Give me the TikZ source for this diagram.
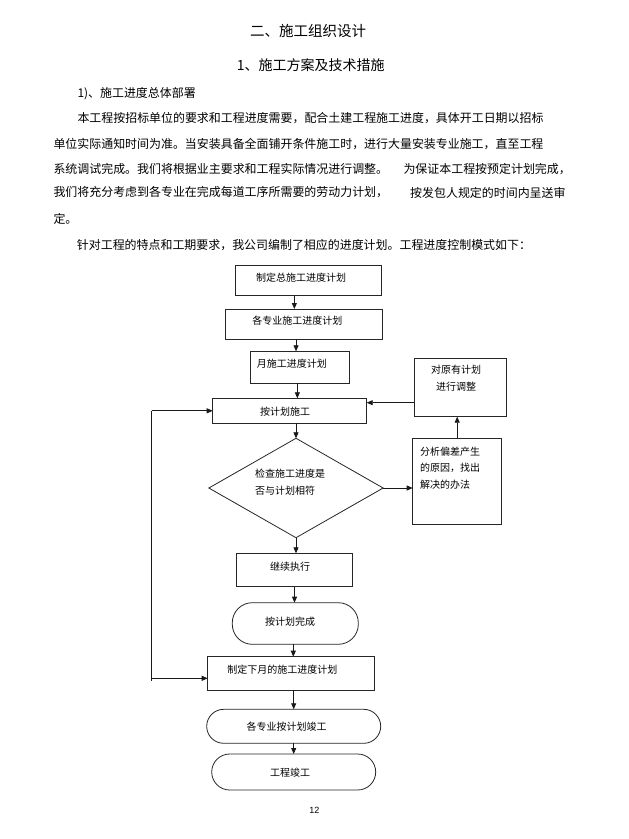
\documentclass[tikz,border=0pt]{standalone}
\usepackage{fontspec}
\newfontfamily\cjk{Noto Sans CJK SC}
\newfontfamily\lat{Liberation Sans}
\usetikzlibrary{arrows.meta,shapes.geometric}
\begin{document}
\begin{tikzpicture}[x=1pt,y=-1pt,
  bx/.style={draw=black!85, line width=0.8pt, inner sep=0pt, outer sep=0pt, rectangle},
  dbx/.style={draw=black!85, line width=0.8pt, inner sep=0pt, outer sep=0pt, diamond},
  arr/.style={draw=black!90, line width=0.8pt, -{Triangle[length=6pt,width=5pt]}},
  ln/.style={draw=black!90, line width=0.8pt},
  ft/.style={inner sep=0pt, font=\cjk\fontsize{10}{12}\selectfont},
  bt/.style={inner sep=0pt, anchor=west, font=\cjk\fontsize{11.95}{14}\selectfont},
  hd/.style={inner sep=0pt, anchor=west, font=\cjk\fontsize{14.5}{16}\selectfont}]
\useasboundingbox (0,0) rectangle (629,839);
\fill[white] (0,0) rectangle (629,839);

% headings and body text
\node[hd] (h1) at (250,31) {二、施工组织设计};
\node[hd, font=\cjk\fontsize{14}{16}\selectfont] (h2) at (236.7,65) {1、施工方案及技术措施};
\node[bt] (h3) at (77.3,94) {1)、施工进度总体部署};
\node[bt] (p1) at (77.3,118.3) {本工程按招标单位的要求和工程进度需要，配合土建工程施工进度，具体开工日期以招标};
\node[bt] (p2) at (53.3,144) {单位实际通知时间为准。当安装具备全面铺开条件施工时，进行大量安装专业施工，直至工程};
\node[bt] (p3a) at (53.3,169.3) {系统调试完成。我们将根据业主要求和工程实际情况进行调整。};
\node[bt] (p3b) at (403.3,169.3) {为保证本工程按预定计划完成，};
\node[bt] (p4a) at (53.3,192.5) {我们将充分考虑到各专业在完成每道工序所需要的劳动力计划，};
\node[bt] (p4b) at (410,192.5) {按发包人规定的时间内呈送审};
\node[bt] (p5) at (53.3,219.3) {定。};
\node[bt] (p6) at (76.7,245) {针对工程的特点和工期要求，我公司编制了相应的进度计划。工程进度控制模式如下：};

% flowchart shapes
\node[bx, minimum width=145.3pt, minimum height=30pt] (b1) at (308.35,280.7) {};
\node[bx, minimum width=157.3pt, minimum height=30.3pt] (b2) at (303.65,324.15) {};
\node[bx, minimum width=98.3pt, minimum height=32pt] (b3) at (299.85,367.3) {};
\node[bx, minimum width=154pt, minimum height=25pt] (b4) at (289.7,410.8) {};
\node[bx, minimum width=91.7pt, minimum height=58.4pt] (adj) at (460.15,387.5) {};
\node[dbx, minimum width=174.3pt, minimum height=99.4pt] (dia) at (296,488) {};
\node[bx, minimum width=89pt, minimum height=85.7pt] (anl) at (457.2,481.15) {};
\node[bx, minimum width=115.6pt, minimum height=33.4pt] (cont) at (294.5,570) {};
\node[bx, rounded corners=20pt, minimum width=126pt, minimum height=41.6pt] (s1) at (295.3,623.5) {};
\node[bx, minimum width=166.3pt, minimum height=33.3pt] (nb) at (290.85,673.35) {};
\node[bx, rounded corners=17pt, minimum width=174pt, minimum height=34pt] (s2) at (293.7,726.3) {};
\node[bx, rounded corners=18pt, minimum width=164pt, minimum height=36pt] (s3) at (293.7,772) {};

% flowchart texts
\node[ft] (t1) at (301,277.5) {制定总施工进度计划};
\node[ft] (t2) at (297.3,321) {各专业施工进度计划};
\node[ft] (t3) at (291.8,363.3) {月施工进度计划};
\node[ft] (t4) at (285,411.7) {按计划施工};
\node[ft, align=center, font=\cjk\fontsize{10}{16.7}\selectfont] (tadj) at (456.2,378.3) {对原有计划\\进行调整};
\node[ft, anchor=west, align=left, font=\cjk\fontsize{10}{17.7}\selectfont] (tdia) at (255,482.2) {检查施工进度是\\否与计划相符};
\node[ft, anchor=west, align=left, font=\cjk\fontsize{10}{16.3}\selectfont] (tanl) at (420,468.1) {分析偏差产生\\的原因，找出\\解决的办法};
\node[ft] (tcont) at (290,566.7) {继续执行};
\node[ft] (ts1) at (290,621.7) {按计划完成};
\node[ft] (tnb) at (282.3,670) {制定下月的施工进度计划};
\node[ft] (ts2) at (286.7,726.7) {各专业按计划竣工};
\node[ft] (ts3) at (290,772.7) {工程竣工};

\node[inner sep=0pt, font=\lat\fontsize{9}{10}\selectfont] (pg) at (314.3,810) {12};

% connectors
\draw[arr] ([xshift=-14pt]b1.south) -- ([xshift=-14pt]b1.south |- b2.north);
\draw[arr] ([xshift=-7.6pt]b2.south) -- ([xshift=-7.6pt]b2.south |- b3.north);
\draw[arr] ([xshift=-2.5pt]b3.south) -- ([xshift=-2.5pt]b3.south |- b4.north);
\draw[arr] (b4.south -| dia.north) -- (dia.north);
\draw[arr] (dia.south) -- (dia.south |- cont.north);
\draw[arr] (cont.south) -- (cont.south |- s1.north);
\draw[arr] ([xshift=-2pt]s1.south) -- ([xshift=-2pt]s1.south |- nb.north);
\draw[arr] (s2.north |- nb.south) -- (s2.north);
\draw[arr] (s2.south) -- (s3.north);
\draw[arr] (dia.east) -- (dia.east -| anl.west);
\draw[arr] (anl.north) -- (anl.north |- adj.south);
\coordinate (k) at ([yshift=8.1pt]b4.east);
\draw[arr] (k -| adj.west) -- (k);
% loop back
\coordinate (lt) at (151.7,410.8);
\coordinate (lj) at (151.7,678.3);
\coordinate (lb) at (151.7,681);
\draw[ln] (lt) -- (lb);
\draw[arr] (lt) -- (b4.west);
\draw[arr] (lj) -- (lj -| nb.west);
\end{tikzpicture}
\end{document}
